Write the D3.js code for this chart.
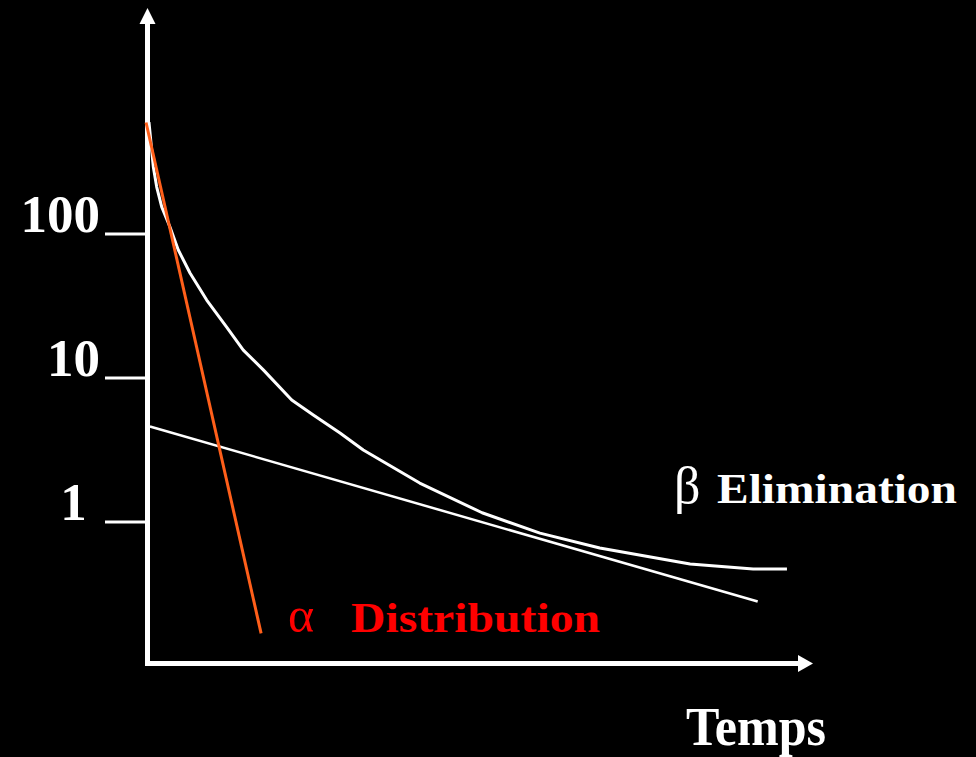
<!DOCTYPE html>
<head>
	<meta charset="utf-8">
	<title> Cinétique bi-exponentielle </title>
	<style>
		body {
			margin: 0;
			background: #000;
		}

		svg {
			display: block;
			background: #000;
		}

		.ticks line {
			stroke: #fff;
			stroke-width: 3px;
		}

		.ticks text {
			font-family: 'Liberation Serif', 'Times New Roman', serif;
			font-weight: bold;
			font-size: 53px;
			fill: #fff;
		}

		.label {
			font-family: 'Liberation Serif', 'Times New Roman', serif;
		}
	</style>
</head>
<body>

<script type="text/javascript" src="https://d3js.org/d3.v7.min.js"></script>
<script>

//Data (time in arbitrary units, concentration on a log scale)
var curveTime = [0.015, 0.046, 0.082, 0.134, 0.211, 0.338, 0.466, 0.646, 0.903, 1.21, 1.466, 1.774, 2.211, 2.543, 2.954, 3.312, 4.18, 5.14, 6.03, 6.95, 8.34, 9.31, 9.83];
var curveConc = [594, 425, 290, 210, 153, 111, 76.8, 53.2, 34.5, 22.4, 15.5, 11.3, 6.98, 5.49, 4.12, 3.14, 1.85, 1.15, 0.83, 0.655, 0.507, 0.468, 0.468];

var betaTime = [0.03, 9.38];   //Elimination phase (straight line on log scale)
var betaConc = [4.57, 0.278];

var alphaTime = [-0.03, 1.74]; //Distribution phase
var alphaConc = [590, 0.167];

var tickValues = [1, 10, 100];
var tickLabels = ["1\u00a0", "10", "100"];

//Width and height
var width = 976;
var height = 757;

var axisX = 147.5;   //position of the vertical axis
var axisY = 663.5;   //position of the horizontal axis

//Create SVG element
var svg = d3.select("body")
			.append("svg")
			.attr("width", width)
			.attr("height", height);

//Scales
var x = d3.scaleLinear()
	.domain([0, 10])
	.range([148, 798]);

var y = d3.scaleLog()
	.domain([1, 100])
	.range([521.5, 233.5]);

var line = d3.line()
	.x(function(d) { return x(d[0]); })
	.y(function(d) { return y(d[1]); });

//Tick marks + labels on the left
var yAxis = d3.axisLeft(y)
	.tickValues(tickValues)
	.tickSize(41)
	.tickPadding(5)
	.tickFormat(function(d, i) { return tickLabels[i]; });

var gTicks = svg.append("g")
	.attr("class", "ticks")
	.attr("transform", "translate(" + (axisX - 1.5) + ",0)")
	.call(yAxis);

gTicks.select(".domain").remove();
gTicks.selectAll("text").attr("dy", "-0.03em");

//Axes with arrows
svg.append("line")
	.attr("x1", axisX).attr("y1", axisY + 2.5)
	.attr("x2", axisX).attr("y2", 22)
	.attr("stroke", "#fff")
	.attr("stroke-width", 5);

svg.append("path")
	.attr("d", "M" + axisX + ",8 L" + (axisX + 8) + ",24 L" + (axisX - 8) + ",24 Z")
	.attr("fill", "#fff");

svg.append("line")
	.attr("x1", axisX - 2.5).attr("y1", axisY)
	.attr("x2", 800).attr("y2", axisY)
	.attr("stroke", "#fff")
	.attr("stroke-width", 5);

svg.append("path")
	.attr("d", "M813," + axisY + " L798," + (axisY - 8.5) + " L798," + (axisY + 8.5) + " Z")
	.attr("fill", "#fff");

//Curves
svg.append("path")
	.datum(d3.zip(betaTime, betaConc))
	.attr("d", line)
	.attr("fill", "none")
	.attr("stroke", "#fff")
	.attr("stroke-width", 2.5);

svg.append("path")
	.datum(d3.zip(curveTime, curveConc))
	.attr("d", line)
	.attr("fill", "none")
	.attr("stroke", "#fff")
	.attr("stroke-width", 3)
	.attr("stroke-linejoin", "round");

svg.append("path")
	.datum(d3.zip(alphaTime, alphaConc))
	.attr("d", line)
	.attr("fill", "none")
	.attr("stroke", "#ff5f1a")
	.attr("stroke-width", 3);

//Labels
svg.append("text")
	.attr("class", "label")
	.attr("x", 288).attr("y", 632)
	.attr("font-size", 50)
	.attr("fill", "#ff0000")
	.text("α");

svg.append("text")
	.attr("class", "label")
	.attr("x", 351).attr("y", 632)
	.attr("font-size", 42)
	.attr("font-weight", "bold")
	.attr("textLength", 249)
	.attr("lengthAdjust", "spacingAndGlyphs")
	.attr("fill", "#ff0000")
	.text("Distribution");

svg.append("text")
	.attr("class", "label")
	.attr("x", 674).attr("y", 503)
	.attr("font-size", 52)
	.attr("fill", "#fff")
	.text("β");

svg.append("text")
	.attr("class", "label")
	.attr("x", 717).attr("y", 503)
	.attr("font-size", 43)
	.attr("font-weight", "bold")
	.attr("textLength", 240)
	.attr("lengthAdjust", "spacingAndGlyphs")
	.attr("fill", "#fff")
	.text("Elimination");

svg.append("text")
	.attr("class", "label")
	.attr("x", 686).attr("y", 745)
	.attr("font-size", 55)
	.attr("font-weight", "bold")
	.attr("textLength", 140)
	.attr("lengthAdjust", "spacingAndGlyphs")
	.attr("fill", "#fff")
	.text("Temps");

</script>
</body>
</html>
